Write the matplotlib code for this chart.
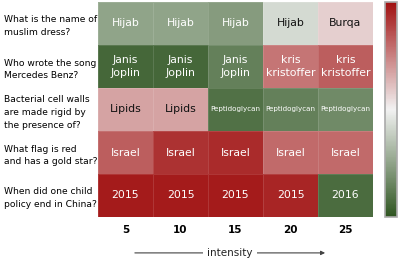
import matplotlib
matplotlib.use('Agg')
import matplotlib.pyplot as plt
import numpy as np
from matplotlib.colors import LinearSegmentedColormap

questions = [
    'What is the name of\nmuslim dress?',
    'Who wrote the song\nMercedes Benz?',
    'Bacterial cell walls\nare made rigid by\nthe presence of?',
    'What flag is red\nand has a gold star?',
    'When did one child\npolicy end in China?',
]
intensity = [5, 10, 15, 20, 25]

answers = [
    ['Hijab', 'Hijab', 'Hijab', 'Hijab', 'Burqa'],
    ['Janis\nJoplin', 'Janis\nJoplin', 'Janis\nJoplin', 'kris\nkristoffer', 'kris\nkristoffer'],
    ['Lipids', 'Lipids', 'Peptidoglycan', 'Peptidoglycan', 'Peptidoglycan'],
    ['Israel', 'Israel', 'Israel', 'Israel', 'Israel'],
    ['2015', '2015', '2015', '2015', '2016'],
]

# score: -1 = green, +1 = red
scores = [
    [-0.5, -0.5, -0.55, -0.15, 0.15],
    [-0.88, -0.88, -0.72, 0.55, 0.65],
    [0.35, 0.35, -0.82, -0.72, -0.66],
    [0.65, 0.85, 0.88, 0.6, 0.6],
    [0.95, 0.95, 0.95, 0.9, -0.85],
]

cmap = LinearSegmentedColormap.from_list('gwr', ['#2e5520', '#f2f2f2', '#a01010'])

fig = plt.figure(figsize=(3.98, 2.63), dpi=100)
W, H = 398, 263
ax = fig.add_axes([98 / W, 1 - 217 / H, 275 / W, 215 / H])
cax = fig.add_axes([385 / W, 1 - 217 / H, 12 / W, 215 / H])

data = np.array(scores)
mesh = ax.pcolormesh(data, cmap=cmap, vmin=-1, vmax=1,
                     edgecolors=(1, 1, 1, 0.12), linewidth=0.6)
ax.set_xlim(0, len(intensity))
ax.set_ylim(len(questions), 0)

for i, row in enumerate(answers):
    for j, txt in enumerate(row):
        v = scores[i][j]
        color = '#111111' if -0.3 < v < 0.4 else 'white'
        size = 5.1 if txt == 'Peptidoglycan' else 7.8
        ax.text(j + 0.5, i + 0.5, txt, ha='center', va='center',
                color=color, fontsize=size, linespacing=1.45)

ax.set_xticks(np.arange(len(intensity)) + 0.5)
ax.set_xticklabels([str(v) for v in intensity], fontsize=7.5, fontweight='bold')
ax.set_yticks(np.arange(len(questions)) + 0.5)
ax.set_yticklabels(questions, fontsize=6.6, ha='left', linespacing=1.55)
ax.tick_params(axis='y', length=0, pad=68)
ax.tick_params(axis='x', length=0, pad=6)
for s in ax.spines.values():
    s.set_visible(False)

ax.annotate('', xy=(0.836, -0.167), xytext=(0.124, -0.167),
            xycoords='axes fraction', textcoords='axes fraction',
            arrowprops=dict(arrowstyle='-|>', color='#444444', lw=0.8,
                            mutation_scale=6))
ax.text(0.48, -0.167, 'intensity', transform=ax.transAxes, ha='center',
        va='center', fontsize=7.5, color='#222222',
        bbox=dict(facecolor='white', edgecolor='none', pad=3))

cb = fig.colorbar(mesh, cax=cax)
cb.set_ticks([])
cb.outline.set_edgecolor('#aaaaaa')
cb.outline.set_linewidth(1.2)

fig.savefig('out.png', dpi=100)
